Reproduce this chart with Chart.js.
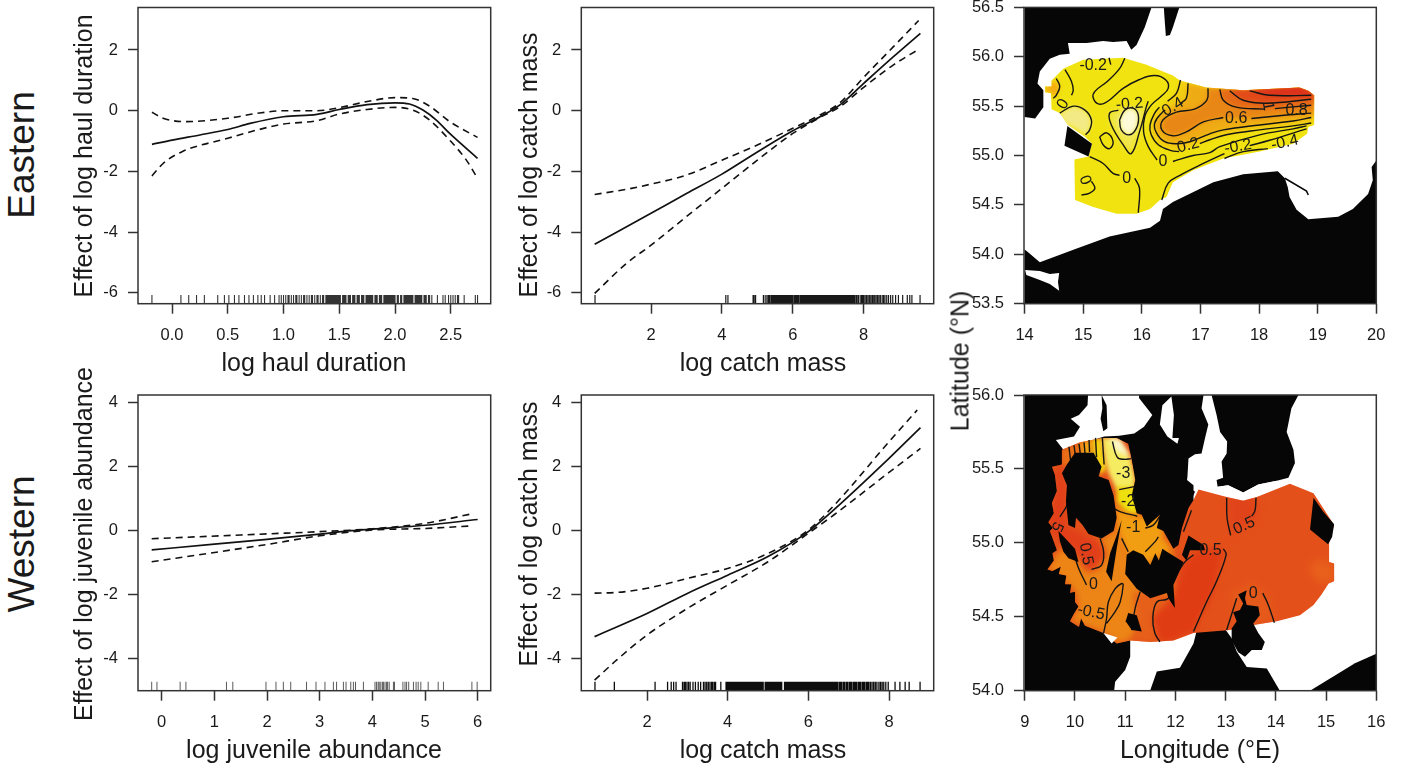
<!DOCTYPE html>
<html>
<head>
<meta charset="utf-8">
<title>Effects by region</title>
<style>
 html, body { margin: 0; background: #fff; }
 #page { position: relative; width: 1403px; height: 766px; overflow: hidden; font-family: "Liberation Sans", Arial, sans-serif; color: #1a1a1a; }
 canvas { position: absolute; }
 .lab { position: absolute; white-space: nowrap; line-height: 1; }
</style>
<script src="https://cdn.jsdelivr.net/npm/chart.js@4/dist/chart.umd.js"></script>
</head>
<body>
<div id="page"></div>
<script>
// Eastern, log haul duration
const haulFitX = [-0.18, 0, 0.25, 0.5, 0.7, 1, 1.3, 1.5, 1.75, 2, 2.13, 2.25, 2.37, 2.49, 2.74];
const haulFit = [-1.11, -0.97, -0.8, -0.62, -0.42, -0.2, -0.12, 0.04, 0.2, 0.26, 0.22, 0.02, -0.31, -0.75, -1.57];
const haulUpperX = [-0.18, -0.08, 0.13, 0.5, 0.76, 1, 1.3, 1.5, 1.75, 2, 2.16, 2.31, 2.49, 2.74];
const haulUpper = [-0.05, -0.25, -0.36, -0.25, -0.09, 0, 0, 0.1, 0.3, 0.43, 0.4, 0.15, -0.36, -0.88];
const haulLowerX = [-0.18, -0.08, 0.09, 0.5, 0.76, 1, 1.3, 1.5, 1.75, 2, 2.16, 2.31, 2.49, 2.64, 2.74];
const haulLower = [-2.15, -1.74, -1.35, -0.91, -0.64, -0.44, -0.33, -0.11, 0.04, 0.11, 0.02, -0.31, -0.97, -1.63, -2.23];
const haulRug = [-0.18, 0.08, 0.15, 0.22, 0.29, 0.41, 0.47, 0.51, 0.56, 0.6, 0.65, 0.69, 0.73, 0.77, 0.8, 0.83, 0.88, 0.92, 0.96, 0.98, 1.0, 1.02, 1.04, 1.05, 1.07, 1.09, 1.11, 1.12, 1.14, 1.16, 1.18, 1.19, 1.21, 1.23, 1.25, 1.26, 1.28, 1.3, 1.31, 1.33, 1.35, 1.36, 1.38, 1.39, 1.4, 1.41, 1.42, 1.43, 1.44, 1.45, 1.46, 1.47, 1.48, 1.49, 1.5, 1.51, 1.53, 1.54, 1.55, 1.56, 1.58, 1.59, 1.6, 1.62, 1.63, 1.64, 1.66, 1.67, 1.68, 1.7, 1.71, 1.72, 1.74, 1.75, 1.76, 1.77, 1.78, 1.79, 1.8, 1.82, 1.83, 1.84, 1.86, 1.87, 1.88, 1.9, 1.91, 1.92, 1.93, 1.94, 1.95, 1.96, 1.97, 1.98, 1.99, 2.0, 2.02, 2.03, 2.05, 2.06, 2.08, 2.09, 2.1, 2.11, 2.12, 2.13, 2.14, 2.15, 2.16, 2.18, 2.19, 2.2, 2.21, 2.22, 2.23, 2.24, 2.26, 2.27, 2.28, 2.3, 2.31, 2.33, 2.38, 2.43, 2.45, 2.48, 2.5, 2.52, 2.54, 2.56, 2.57, 2.62, 2.72, 2.74];
const haulTicks = [0, 0.5, 1, 1.5, 2, 2.5];
const haulTickLabels = ['0.0', '0.5', '1.0', '1.5', '2.0', '2.5'];

// Eastern, log catch mass
const eastMassFitX = [0.41, 2, 3, 4, 5, 6, 6.77, 7.33, 8, 8.84, 9.6];
const eastMassFit = [-4.4, -3.38, -2.73, -2.09, -1.36, -0.66, -0.2, 0.19, 0.9, 1.78, 2.55];
const eastMassUpperX = [0.41, 1.31, 2, 3, 4, 5, 6, 6.77, 7.33, 8, 8.84, 9.55];
const eastMassUpper = [-2.76, -2.59, -2.42, -2.12, -1.63, -1.13, -0.58, -0.14, 0.26, 1.1, 2.11, 2.97];
const eastMassLowerX = [0.41, 1.31, 2, 3, 4, 5, 6, 6.77, 7.33, 8, 8.84, 9.55];
const eastMassLower = [-6.02, -5.03, -4.43, -3.49, -2.56, -1.63, -0.75, -0.22, 0.13, 0.77, 1.51, 2.02];
const eastMassRug = [0.42, 4.11, 4.17, 4.88, 4.91, 4.95, 5.17, 5.22, 5.27, 5.31, 5.34, 5.38, 5.41, 5.44, 5.47, 5.49, 5.52, 5.54, 5.57, 5.59, 5.62, 5.65, 5.67, 5.7, 5.72, 5.75, 5.78, 5.8, 5.83, 5.85, 5.88, 5.91, 5.93, 5.96, 5.98, 6.01, 6.05, 6.08, 6.1, 6.13, 6.16, 6.2, 6.22, 6.25, 6.27, 6.3, 6.33, 6.35, 6.38, 6.4, 6.43, 6.45, 6.48, 6.5, 6.53, 6.55, 6.58, 6.6, 6.63, 6.65, 6.68, 6.7, 6.73, 6.75, 6.78, 6.8, 6.83, 6.85, 6.88, 6.9, 6.93, 6.95, 6.98, 7.0, 7.03, 7.05, 7.08, 7.1, 7.13, 7.15, 7.18, 7.2, 7.23, 7.25, 7.28, 7.3, 7.33, 7.35, 7.38, 7.4, 7.43, 7.45, 7.48, 7.5, 7.53, 7.55, 7.58, 7.61, 7.63, 7.66, 7.69, 7.72, 7.74, 7.78, 7.81, 7.85, 7.9, 7.94, 7.97, 8.0, 8.04, 8.08, 8.12, 8.16, 8.2, 8.24, 8.27, 8.31, 8.35, 8.39, 8.43, 8.47, 8.52, 8.56, 8.6, 8.65, 8.7, 8.76, 8.82, 8.9, 8.98, 9.1, 9.23, 9.3, 9.36, 9.59];
const eastMassTicks = [2, 4, 6, 8];

// Western, log juvenile abundance
const juvFitX = [-0.19, 1, 2, 3, 3.6, 4, 5, 6];
const juvFit = [-0.61, -0.43, -0.28, -0.12, -0.01, 0.04, 0.16, 0.34];
const juvUpperX = [-0.19, 2, 3, 4, 5, 5.9];
const juvUpper = [-0.26, -0.11, -0.04, 0.05, 0.22, 0.52];
const juvLowerX = [-0.19, 2, 3, 4, 5, 5.9];
const juvLower = [-0.98, -0.44, -0.17, 0.01, 0.06, 0.14];
const juvRug = [-0.19, -0.09, 0.35, 0.46, 1.23, 1.35, 1.98, 2.17, 2.31, 2.45, 2.75, 2.93, 3.1, 3.26, 3.32, 3.45, 3.5, 3.59, 3.64, 3.68, 3.83, 4.05, 4.08, 4.11, 4.13, 4.16, 4.19, 4.21, 4.24, 4.27, 4.29, 4.32, 4.4, 4.42, 4.58, 4.62, 4.65, 4.69, 4.78, 4.83, 4.87, 4.92, 5.06, 5.25, 5.35, 5.89, 5.99];
const juvTicks = [0, 1, 2, 3, 4, 5, 6];

// Western, log catch mass
const westMassFitX = [0.7, 2, 3, 4, 5, 6, 6.63, 8, 8.78];
const westMassFit = [-3.32, -2.6, -1.97, -1.4, -0.82, -0.04, 0.64, 2.25, 3.21];
const westMassUpperX = [0.7, 1.25, 2, 3, 4, 5, 6, 6.63, 8, 8.7];
const westMassUpper = [-1.96, -1.94, -1.81, -1.5, -1.19, -0.72, 0.01, 0.77, 2.77, 3.76];
const westMassLowerX = [0.7, 1.25, 2, 3, 4, 5, 6, 6.63, 8, 8.78];
const westMassLower = [-4.68, -4.05, -3.27, -2.44, -1.71, -0.98, -0.09, 0.48, 1.81, 2.56];
const westMassRug = [0.71, 1.19, 2.2, 2.51, 2.6, 2.66, 2.72, 2.88, 2.92, 2.95, 2.99, 3.03, 3.07, 3.14, 3.2, 3.27, 3.33, 3.4, 3.44, 3.48, 3.52, 3.56, 3.6, 3.63, 3.67, 3.7, 3.83, 3.96, 3.98, 4.01, 4.03, 4.06, 4.09, 4.11, 4.14, 4.17, 4.2, 4.22, 4.25, 4.28, 4.31, 4.33, 4.36, 4.39, 4.42, 4.44, 4.47, 4.5, 4.53, 4.55, 4.58, 4.61, 4.64, 4.66, 4.69, 4.72, 4.75, 4.77, 4.8, 4.83, 4.86, 4.88, 4.93, 4.95, 4.98, 5.01, 5.04, 5.06, 5.09, 5.12, 5.15, 5.17, 5.2, 5.23, 5.26, 5.28, 5.31, 5.34, 5.41, 5.44, 5.47, 5.49, 5.52, 5.55, 5.58, 5.6, 5.63, 5.66, 5.69, 5.71, 5.74, 5.77, 5.8, 5.82, 5.85, 5.88, 5.91, 5.93, 5.96, 5.99, 6.02, 6.04, 6.07, 6.1, 6.13, 6.15, 6.18, 6.21, 6.24, 6.26, 6.29, 6.32, 6.35, 6.37, 6.4, 6.43, 6.46, 6.48, 6.51, 6.54, 6.57, 6.59, 6.62, 6.65, 6.68, 6.7, 6.73, 6.77, 6.8, 6.83, 6.87, 6.9, 6.94, 6.97, 7.01, 7.04, 7.07, 7.11, 7.14, 7.17, 7.2, 7.24, 7.27, 7.3, 7.34, 7.37, 7.4, 7.44, 7.47, 7.5, 7.54, 7.58, 7.62, 7.66, 7.7, 7.75, 7.79, 7.83, 7.87, 7.92, 7.98, 8.15, 8.27, 8.4, 8.5, 8.77];
const westMassTicks = [2, 4, 6, 8];

const effectTicksEast = [-6, -4, -2, 0, 2];
const effectTicksWest = [-4, -2, 0, 2, 4];

// Eastern map, [lon, lat]
const eastLandNorth = [[14, 56.5], [16.165, 56.5], [16.05, 56.3], [15.91, 56.12], [15.82, 56.07], [15.74, 56.16], [15.51, 56.15], [15.34, 56.16], [15.06, 56.14], [14.74, 56.14], [14.77, 56.03], [14.6, 56.02], [14.43, 55.98], [14.26, 55.85], [14.22, 55.73], [14.32, 55.66], [14.32, 55.49], [14.18, 55.375], [14, 55.39]];
const eastLandOland = [[16.375, 56.5], [16.64, 56.5], [16.53, 56.3], [16.48, 56.22], [16.41, 56.21], [16.39, 56.37]];
const eastLandSouth = [[14, 54.05], [14.06, 54.02], [14.26, 53.92], [14.89, 54.06], [15.45, 54.18], [16.14, 54.27], [16.31, 54.34], [16.36, 54.46], [16.53, 54.53], [16.88, 54.63], [17.22, 54.73], [17.73, 54.81], [18.32, 54.84], [18.44, 54.77], [18.49, 54.68], [18.52, 54.58], [18.64, 54.45], [18.84, 54.355], [19.35, 54.38], [19.6, 54.46], [19.86, 54.61], [19.94, 54.75], [19.92, 54.885], [20, 54.95], [20, 53.5], [14, 53.5]];
const eastLagoon = [[14.01, 53.84], [14.26, 53.83], [14.43, 53.8], [14.59, 53.81], [14.57, 53.72], [14.59, 53.63], [14.43, 53.7], [14.26, 53.74], [14.03, 53.79]];
const eastBornholm = [[14.73, 55.3], [15.15, 55.12], [15.09, 54.99], [14.68, 55.1]];
const eastSpit = [[18.44, 54.77], [18.81, 54.64], [18.84, 54.6]];
const eastSurface = [[14.35, 55.7], [14.46, 55.7], [14.46, 55.76], [14.66, 55.88], [15, 55.97], [15.68, 55.99], [16.08, 55.92], [16.53, 55.81], [16.65, 55.76], [17.1, 55.69], [17.73, 55.66], [18.69, 55.69], [18.84, 55.655], [18.94, 55.61], [18.94, 55.31], [18.84, 55.29], [18.82, 55.22], [18.58, 55.12], [18.01, 55.04], [17.39, 54.97], [16.875, 54.85], [16.53, 54.73], [16.42, 54.58], [16.31, 54.55], [16.14, 54.46], [15.91, 54.41], [15.57, 54.41], [15.17, 54.48], [14.86, 54.55], [14.85, 54.96], [15.09, 54.99], [15.15, 55.12], [15.03, 55.19], [14.74, 55.31], [14.6, 55.43], [14.46, 55.47], [14.45, 55.63], [14.35, 55.64]];
const eastBandWest = [[14.35, 55.7], [14.52, 55.76], [14.6, 55.7], [14.54, 55.59], [14.45, 55.63], [14.35, 55.64]];
const eastBandPaleArc = [[14.6, 55.43], [14.83, 55.5], [15.03, 55.46], [15.14, 55.36], [15.11, 55.26], [15.04, 55.21], [14.83, 55.29], [14.66, 55.33]];
const eastBandPaleTri = [[15.6, 55.46], [15.45, 55.43], [15.48, 55.31], [15.68, 55.11], [15.82, 55.02], [15.96, 55.24], [16.08, 55.5]];
const eastBandWhite = [[15.62, 55.36], [15.65, 55.26], [15.79, 55.21], [15.91, 55.28], [15.94, 55.41], [15.85, 55.48], [15.71, 55.46]];
const eastTop = [[18.94, 55.61], [18.84, 55.655], [18.69, 55.69], [17.73, 55.66]];
const eastBandA = [[16.66, 55.765], [16.59, 55.63], [16.39, 55.53], [16.22, 55.43], [16.14, 55.31], [16.16, 55.21], [16.28, 55.11], [16.5, 55.05], [16.635, 55.04], [16.99, 55.12], [17.16, 55.16], [17.44, 55.21], [18.01, 55.26], [18.58, 55.3], [18.94, 55.33], ...eastTop, [17.1, 55.69]];
const eastBandB = [[16.79, 55.73], [16.76, 55.58], [16.59, 55.51], [16.36, 55.445], [16.22, 55.33], [16.25, 55.23], [16.39, 55.14], [16.59, 55.12], [16.82, 55.14], [17.16, 55.22], [17.39, 55.26], [18.01, 55.31], [18.58, 55.35], [18.94, 55.385], ...eastTop, [17.1, 55.69]];
const eastBandC = [[17.13, 55.68], [17.11, 55.56], [16.9, 55.47], [16.59, 55.44], [16.36, 55.36], [16.34, 55.26], [16.53, 55.2], [16.76, 55.24], [17.05, 55.34], [17.39, 55.385], [17.87, 55.375], [18.47, 55.41], [18.94, 55.43], ...eastTop];
const eastBandD = [[17.33, 55.67], [17.39, 55.56], [17.61, 55.49], [18.1, 55.47], [18.27, 55.475], [18.94, 55.51], ...eastTop];
const eastBandE = [[17.5, 55.655], [17.73, 55.56], [18.125, 55.53], [18.94, 55.57], ...eastTop];
const eastBandF = [[17.84, 55.655], [18.18, 55.61], [18.94, 55.61], [18.84, 55.655], [18.69, 55.69]];
const eastContours = [
 [[15.71, 55.985], [15.62, 55.88], [15.42, 55.755], [15.2, 55.65], [15.17, 55.585], [15.27, 55.52], [15.42, 55.55], [15.68, 55.68], [15.96, 55.77], [16.22, 55.81], [16.41, 55.765], [16.45, 55.68], [16.33, 55.6], [16.16, 55.51], [16.05, 55.395], [16.03, 55.24], [16.11, 55.09], [16.26, 54.955]],
 [[16.53, 54.94], [16.875, 55], [17.16, 55.03], [17.33, 55.09], [18.01, 55.21], [18.58, 55.27], [18.81, 55.3]],
 [[16.66, 55.765], [16.59, 55.63], [16.44, 55.55]],
 [[16.3, 55.49], [16.22, 55.43], [16.14, 55.31], [16.16, 55.21], [16.28, 55.11], [16.5, 55.05], [16.635, 55.04]],
 [[16.99, 55.12], [17.16, 55.16], [17.44, 55.21], [18.01, 55.26], [18.58, 55.3], [18.89, 55.33]],
 [[16.79, 55.73], [16.76, 55.58], [16.66, 55.53]],
 [[16.4, 55.46], [16.36, 55.445], [16.22, 55.33], [16.25, 55.23], [16.39, 55.14], [16.59, 55.12], [16.82, 55.14], [17.16, 55.22], [17.39, 55.26], [18.01, 55.31], [18.58, 55.35], [18.89, 55.385]],
 [[17.13, 55.68], [17.11, 55.56], [16.9, 55.47], [16.59, 55.44], [16.36, 55.36], [16.34, 55.26], [16.53, 55.2], [16.76, 55.24], [17.05, 55.34], [17.39, 55.385]],
 [[17.87, 55.375], [18.47, 55.41], [18.89, 55.43]],
 [[17.33, 55.67], [17.39, 55.56], [17.61, 55.49], [18.1, 55.47]],
 [[18.27, 55.475], [18.89, 55.51]],
 [[17.5, 55.655], [17.73, 55.56], [18.125, 55.53], [18.89, 55.57]],
 [[17.84, 55.655], [18.18, 55.61], [18.89, 55.61]],
 [[14.69, 55.87], [14.8, 55.75], [14.83, 55.66], [14.8, 55.61]],
 [[14.54, 55.78], [14.6, 55.7], [14.54, 55.61], [14.49, 55.58]],
 [[14.6, 55.43], [14.83, 55.5], [15.03, 55.46], [15.14, 55.36], [15.11, 55.26], [15.04, 55.21]],
 [[15.28, 55.19], [15.4, 55.23], [15.51, 55.14], [15.45, 55.07], [15.34, 55.11], [15.28, 55.19]],
 [[15.6, 55.46], [15.45, 55.43], [15.48, 55.31], [15.68, 55.11], [15.82, 55.02], [15.96, 55.24], [16.08, 55.5], [16.11, 55.55]],
 [[15.62, 55.36], [15.65, 55.26], [15.79, 55.21], [15.91, 55.28], [15.94, 55.41], [15.85, 55.48], [15.71, 55.46], [15.62, 55.36]],
 [[15.11, 54.99], [15.34, 54.92], [15.51, 54.82], [15.62, 54.8]],
 [[15.88, 54.77], [15.96, 54.67], [15.94, 54.42]],
 [[15.14, 54.74], [15.2, 54.67], [15.11, 54.62], [14.97, 54.6]],
 [[15.44, 55.99], [15.47, 55.92]],
 [[16.34, 54.55], [16.45, 54.72], [16.65, 54.8], [17.05, 54.92], [17.41, 55.02]],
 [[17.84, 55.1], [18.18, 55.155], [18.81, 55.27]],
 [[17.41, 54.97], [17.73, 55.04], [18.15, 55.07]]
];
const eastLabelText = ['-0.2', '0', '-0.2', '0.4', '0.2', '0', '0', '0', '0.6', '1', '0.8', '-0.2', '-0.4'];
const eastLabelLon = [15.17, 14.66, 15.79, 16.53, 16.79, 16.36, 15.74, 15.03, 17.61, 18.15, 18.64, 17.64, 18.44];
const eastLabelLat = [55.91, 55.52, 55.52, 55.49, 55.1, 54.94, 54.77, 54.75, 55.37, 55.5, 55.46, 55.09, 55.13];
const eastLabelAngle = [0, -60, -5, -30, -15, 0, 0, 70, 0, 80, 0, -10, -12];
const eastLonTicks = [14, 15, 16, 17, 18, 19, 20];
const eastLatTicks = [53.5, 54, 54.5, 55, 55.5, 56, 56.5];

// Western map, [lon, lat]
const westLandMain = [[9, 56], [14.45, 56], [14.31, 55.91], [14.215, 55.75], [14.35, 55.63], [14.38, 55.54], [14.25, 55.44], [14.02, 55.42], [13.65, 55.395], [13.35, 55.34], [13.05, 55.39], [12.84, 55.38], [12.39, 55.345], [11.1, 54.34], [11.1, 54.23], [11, 54.14], [10.8, 54.06], [10.78, 54], [9, 54]];
const westSeaBelt = [[10.26, 56], [10.25, 55.93], [10.08, 55.865], [9.915, 55.84], [10.1, 55.785], [9.98, 55.72], [9.62, 55.695], [9.77, 55.63], [10.58, 55.72], [10.88, 55.725], [11.18, 55.74], [11.375, 55.785], [11.54, 55.865], [11.275, 55.98], [11.275, 56]];
const westSeaSliver = [[11.74, 55.93], [11.92, 55.99], [11.97, 55.865], [11.94, 55.71], [12.07, 55.71], [12.04, 55.67], [11.84, 55.72], [11.69, 55.8]];
const westSeaSound = [[12.56, 56], [12.72, 56], [12.82, 55.865], [12.89, 55.75], [13.03, 55.685], [13.02, 55.605], [12.92, 55.55], [12.95, 55.44], [12.82, 55.425], [12.84, 55.38], [13.05, 55.39], [13.35, 55.34], [13.65, 55.395], [14.02, 55.42], [14.05, 55.38], [14.38, 55.39], [14.31, 55.32], [13.35, 55.27], [12.655, 55.32], [12.39, 55.345], [12.22, 55.39], [12.24, 55.45], [12.26, 55.57], [12.39, 55.6], [12.52, 55.605], [12.59, 55.71], [12.655, 55.8], [12.52, 55.91]];
const westSeaNotch = [[10.565, 54.39], [10.73, 54.32], [10.845, 54.36]];
const westIslandStripe = [[10.53, 56], [10.63, 55.93], [10.645, 55.775], [10.565, 55.755], [10.51, 55.84], [10.545, 55.91]];
const westLandGermany = [[11.495, 54], [11.63, 54.13], [12.09, 54.155], [12.36, 54.32], [12.46, 54.455], [12.96, 54.43], [13.12, 54.355], [13.22, 54.265], [13.42, 54.16], [13.82, 54.15], [14.08, 54]];
const westLandPoland = [[14.68, 54], [15.575, 54.185], [16, 54.25], [16, 54]];
const westSurface = [[9.74, 55.63], [10.1, 55.68], [10.53, 55.71], [10.83, 55.71], [11.06, 55.67], [11.23, 55.41], [12.36, 55.29], [12.46, 55.36], [13.02, 55.31], [13.35, 55.285], [13.62, 55.31], [14.28, 55.4], [14.75, 55.335], [15.16, 55.12], [15.06, 55], [15.06, 54.87], [15.16, 54.86], [15.16, 54.74], [15.05, 54.725], [14.91, 54.65], [14.75, 54.58], [14.48, 54.51], [14.02, 54.47], [13.55, 54.445], [13.09, 54.41], [12.36, 54.39], [11.96, 54.34], [11.5, 54.33], [11.1, 54.34], [10.83, 54.32], [10.57, 54.39], [10.2, 54.44], [10.12, 54.49], [10.08, 54.43], [9.9, 54.47], [9.98, 54.52], [10.07, 54.57], [10, 54.6], [10, 54.67], [9.9, 54.66], [9.93, 54.72], [9.8, 54.72], [9.83, 54.78], [9.68, 54.79], [9.72, 54.84], [9.55, 54.81], [9.45, 54.82], [9.58, 54.88], [9.55, 54.93], [9.64, 54.95], [9.5, 55.08], [9.56, 55.1], [9.47, 55.14], [9.58, 55.2], [9.54, 55.27], [9.64, 55.35], [9.6, 55.46], [9.54, 55.515], [9.74, 55.53]];
const westBandH1 = [[9.74, 55.63], [10.1, 55.68], [10.13, 55.53], [9.84, 55.515], [9.74, 55.53]];
const westBandH2 = [[10.1, 55.68], [10.33, 55.7], [10.37, 55.58], [10.13, 55.58]];
const westBandH3 = [[10.33, 55.7], [10.53, 55.71], [10.63, 55.5], [10.5, 55.46], [10.37, 55.58]];
const westBandH4 = [[10.53, 55.71], [10.83, 55.71], [11.1, 55.58], [11.2, 55.44], [11.18, 55.36], [10.83, 55.36], [10.67, 55.47], [10.6, 55.56]];
const westBandH4b = [[10.67, 55.7], [10.9, 55.7], [11.1, 55.58], [10.83, 55.62]];
const westBandH5 = [[10.83, 55.38], [11.2, 55.38], [11.26, 55.19], [11.03, 55.21], [10.83, 55.28]];
const westBandH6 = [[10.8, 55.28], [11.03, 55.21], [11.26, 55.18], [11.63, 55.19], [11.79, 55.14], [11.76, 55.03], [11.96, 54.96], [11.43, 54.85], [11.03, 54.92], [10.93, 55.01], [10.83, 55.1]];
const westBandH7 = [[10, 55.01], [10.63, 55.05], [10.83, 55.1], [11.03, 54.92], [11.43, 54.85], [11.96, 54.96], [11.96, 54.625], [11.43, 54.67], [11.23, 54.4], [11.1, 54.34], [10.83, 54.32], [10.57, 54.39], [10.2, 54.44], [9.9, 54.47], [10.07, 54.57], [10, 54.67], [9.7, 54.77], [9.45, 54.82], [9.64, 54.93]];
const westBandH8 = [[9.6, 55.46], [9.74, 55.53], [9.82, 55.39], [9.82, 55.12], [10, 55.08], [10.5, 55.03], [10.63, 54.92], [10.43, 54.82], [10.23, 54.805], [10.04, 54.9], [9.77, 55.01], [9.5, 55.08], [9.47, 55.14], [9.64, 55.35]];
const westBandH9 = [[11.96, 54.625], [12.16, 54.86], [12.49, 54.96], [12.96, 54.96], [12.76, 54.67], [12.36, 54.4], [11.96, 54.34], [11.69, 54.33], [11.55, 54.49]];
const westBandH10 = [[11.16, 54.67], [11.43, 54.67], [11.96, 54.625], [11.55, 54.49], [11.69, 54.33], [11.5, 54.33], [11.1, 54.34], [11.23, 54.4]];
const westBandE1 = [[13.02, 55.31], [13.62, 55.31], [13.62, 55.17], [13.12, 55.05]];
const westBandE2 = [[14.75, 54.89], [15.06, 54.87], [15.16, 54.86], [15.16, 54.74], [14.91, 54.72], [14.68, 54.79]];
const westBandE3 = [[13.09, 54.66], [13.55, 54.735], [13.88, 54.625], [13.95, 54.47], [13.29, 54.41]];
const westIslandFyn = [[9.84, 55.53], [10, 55.61], [10.37, 55.61], [10.53, 55.515], [10.47, 55.45], [10.67, 55.425], [10.77, 55.32], [10.83, 55.17], [10.77, 55.08], [10.53, 55.03], [10.27, 55.06], [10.15, 55.12], [10.02, 55.17], [10, 55.1], [9.87, 55.12], [9.82, 55.28], [9.84, 55.39], [9.74, 55.47]];
const westIslandAls = [[9.67, 55.08], [10, 54.96], [10.07, 54.87], [9.87, 54.895], [9.77, 54.94], [9.7, 55.01]];
const westIslandLangeland = [[10.93, 55.155], [10.83, 54.96], [10.73, 54.74], [10.62, 54.805], [10.7, 54.93], [10.83, 55.05]];
const westIslandLolland = [[11.03, 54.92], [11.16, 54.95], [11.36, 54.92], [11.5, 54.85], [11.6, 54.93], [11.67, 54.88], [11.74, 54.96], [11.83, 54.94], [12.16, 54.87], [11.96, 54.715], [11.99, 54.56], [11.86, 54.625], [11.83, 54.66], [11.5, 54.625], [11.23, 54.69], [11, 54.79]];
const westIslandFalster = [[11.06, 54.525], [11.23, 54.51], [11.33, 54.4], [11.13, 54.41], [11.01, 54.47]];
const westIslandMoen = [[12.13, 54.92], [12.26, 55.05], [12.56, 54.985], [12.59, 54.95], [12.29, 54.95], [12.22, 54.88]];
const westIslandZealand = [[11.1, 55.68], [11.3, 55.68], [12.36, 55.39], [12.36, 55.29], [12.26, 55.235], [12.13, 55.1], [12.06, 54.985], [11.96, 54.96], [11.76, 55.08], [11.63, 55.1], [11.69, 55.19], [11.43, 55.11], [11.33, 55.19], [11.23, 55.2], [11.13, 55.32], [11.2, 55.425], [11.13, 55.57]];
const westIslandRugen = [[13.25, 54.65], [13.42, 54.68], [13.385, 54.625], [13.42, 54.58], [13.65, 54.57], [13.68, 54.51], [13.55, 54.455], [13.65, 54.39], [13.78, 54.33], [13.72, 54.275], [13.52, 54.275], [13.385, 54.23], [13.25, 54.26], [13.12, 54.34], [13.12, 54.42], [13.22, 54.47], [13.15, 54.53], [13.285, 54.545], [13.35, 54.59]];
const westIslandBornholm = [[14.75, 55.305], [14.945, 55.21], [15.16, 55.125], [15.12, 55.04], [15.04, 54.99], [14.68, 55.09]];
const westContours = [
 [[9.88, 55.65], [9.915, 55.55]], [[9.98, 55.66], [10.015, 55.57]], [[10.08, 55.67], [10.11, 55.59]], [[10.18, 55.68], [10.2, 55.605]], [[10.28, 55.695], [10.29, 55.615]], [[10.41, 55.71], [10.43, 55.58]], [[10.545, 55.71], [10.58, 55.53]],
 [[10.745, 55.685], [10.84, 55.58], [10.975, 55.565], [11.12, 55.57]],
 [[10.79, 55.23], [10.91, 55.21], [11.24, 55.18]],
 [[10.88, 55.36], [11.18, 55.38]],
 [[13.02, 55.305], [13.03, 55.165], [13.1, 55.05]],
 [[13.605, 55.305], [13.585, 55.22], [13.52, 55.18]],
 [[12.955, 54.96], [13.01, 54.92], [12.82, 54.74], [12.62, 54.6], [12.36, 54.4]],
 [[12.36, 54.92], [12.16, 54.86], [11.96, 54.74], [11.86, 54.625], [11.63, 54.6], [11.55, 54.49], [11.59, 54.39], [11.69, 54.33]],
 [[13.74, 54.66], [13.85, 54.58], [13.97, 54.46]],
 [[13.02, 54.41], [13.22, 54.625]],
 [[11.3, 54.67], [11.2, 54.56], [11.13, 54.41]],
 [[10.57, 54.39], [10.63, 54.49], [10.665, 54.6], [10.8, 54.69], [10.93, 54.725], [10.96, 54.715], [10.9, 54.6], [10.8, 54.535], [10.63, 54.455]],
 [[9.97, 54.94], [10.07, 54.83], [10.23, 54.715]],
 [[10.5, 55.03], [10.57, 54.94], [10.53, 54.85], [10.33, 54.82]],
 [[9.87, 55.32], [9.84, 55.255], [9.7, 55.175]],
 [[10.93, 55.03], [11.06, 54.94]],
 [[11.4, 54.94], [11.6, 55.01], [11.66, 55.04]],
 [[11.4, 55.1], [11.56, 55.12], [11.69, 55.18]],
 [[12.16, 55.075], [12.32, 55.22]]
];
const westLabelText = ['-3', '-2', '-1', '0.5', '0.5', '0', '0.5', '0', '-0.5', '5'];
const westLabelLon = [10.96, 11.06, 11.16, 13.37, 12.7, 13.55, 10.22, 10.37, 10.32, 9.64];
const westLabelLat = [55.47, 55.28, 55.1, 55.115, 54.945, 54.66, 54.925, 54.72, 54.53, 55.11];
const westLabelAngle = [0, 0, 0, -25, 0, 0, 80, 0, 12, 115];
const westLonTicks = [9, 10, 11, 12, 13, 14, 15, 16];
const westLatTicks = [54, 54.5, 55, 55.5, 56];

Chart.defaults.font.family = '"Liberation Sans", Arial, sans-serif';
Chart.defaults.color = '#1a1a1a';
const page = document.getElementById('page');
const INK = '#333';

// outer box of each panel
const framePlugin = {
    id: 'frame',
    afterDraw(chart) {
        const a = chart.chartArea, ctx = chart.ctx;
        ctx.save();
        ctx.strokeStyle = INK;
        ctx.lineWidth = 1.5;
        ctx.strokeRect(a.left, a.top, a.right - a.left, a.bottom - a.top);
        ctx.restore();
    }
};

function tracePoints(ctx, points) {
    ctx.beginPath();
    points.forEach((p, i) => i ? ctx.lineTo(p.x, p.y) : ctx.moveTo(p.x, p.y));
    ctx.closePath();
}

// land, sea and surface shapes, filled from the dataset's scaled points
const polygonPlugin = {
    id: 'polygons',
    beforeDatasetDraw(chart, args) {
        const ds = chart.data.datasets[args.index];
        if (!ds.polyFill) return;
        const ctx = chart.ctx;
        ctx.save();
        if (ds.softIn !== undefined) {
            tracePoints(ctx, chart.getDatasetMeta(ds.softIn).data);
            ctx.clip();
            ctx.filter = 'blur(' + ds.softness + 'px)';
        }
        tracePoints(ctx, args.meta.data);
        ctx.fillStyle = ds.polyFill;
        ctx.fill();
        ctx.restore();
    }
};

function contourLabels(text, lon, lat, angle) {
    return {
        id: 'contourLabels',
        afterDatasetsDraw(chart) {
            const ctx = chart.ctx, sx = chart.scales.x, sy = chart.scales.y;
            ctx.save();
            ctx.font = '16px "Liberation Sans", Arial, sans-serif';
            ctx.fillStyle = '#1a1a1a';
            ctx.textAlign = 'center';
            ctx.textBaseline = 'middle';
            text.forEach((t, i) => {
                ctx.save();
                ctx.translate(sx.getPixelForValue(lon[i]), sy.getPixelForValue(lat[i]));
                ctx.rotate(angle[i] * Math.PI / 180);
                ctx.fillText(t, 0, 0);
                ctx.restore();
            });
            ctx.restore();
        }
    };
}

function axisOptions(range, ticks, labels, pos, size) {
    return {
        type: 'linear',
        position: pos,
        min: range[0],
        max: range[1],
        border: { display: false },
        grid: { drawOnChartArea: false, drawTicks: true, tickLength: 10, tickColor: INK, tickWidth: 1.5 },
        ticks: {
            autoSkip: false,
            maxRotation: 0,
            minRotation: 0,
            padding: pos === 'bottom' ? 12 : 10,
            color: '#1a1a1a',
            font: { size: 16.5 },
            callback: (v, i) => labels ? labels[i] : String(ticks[i])
        },
        afterBuildTicks: axis => { axis.ticks = ticks.map(value => ({ value })); },
        // fixed axis size, and no extra room for the end labels
        afterFit: axis => {
            if (pos === 'bottom') axis.height = size; else axis.width = size;
            axis.paddingLeft = axis.paddingRight = axis.paddingTop = axis.paddingBottom = 0;
        }
    };
}

function drawPanel(box, xRange, yRange, xTicks, xLabels, yTicks, yLabels, datasets, extraPlugins) {
    const leftPad = 66, rightPad = 12, bottomPad = 46;
    const left = Math.floor(box.l - leftPad), top = Math.max(0, Math.floor(box.t - 8));
    const width = Math.ceil(box.r + rightPad) - left, height = Math.ceil(box.b + bottomPad) - top;
    const canvas = document.createElement('canvas');
    canvas.width = width;
    canvas.height = height;
    canvas.style.left = left + 'px';
    canvas.style.top = top + 'px';
    page.appendChild(canvas);
    datasets.forEach((d, i) => { d.order = -i; });
    return new Chart(canvas, {
        type: 'scatter',
        data: { datasets },
        options: {
            responsive: false,
            animation: false,
            events: [],
            layout: {
                autoPadding: false,
                padding: { top: box.t - top, right: left + width - box.r, left: 0, bottom: 0 }
            },
            plugins: { legend: { display: false }, tooltip: { enabled: false } },
            scales: {
                x: axisOptions(xRange, xTicks, xLabels, 'bottom', top + height - box.b),
                y: axisOptions(yRange, yTicks, yLabels, 'left', box.l - left)
            }
        },
        plugins: [polygonPlugin, framePlugin].concat(extraPlugins || [])
    });
}

const zip = (xs, ys) => xs.map((x, i) => ({ x, y: ys[i] }));
const toPoints = pairs => pairs.map(p => ({ x: p[0], y: p[1] }));
const curve = (xs, ys, dash) => ({ data: zip(xs, ys), showLine: true, borderColor: '#111', borderWidth: dash ? 1.6 : 1.7, borderDash: dash ? [7, 5] : [], cubicInterpolationMode: 'monotone', pointRadius: 0 });

function rug(values, low, high, alpha, width) {
    const data = [];
    values.forEach(v => data.push({ x: v, y: low }, { x: v, y: high }, { x: v, y: NaN }));
    return { data, showLine: true, spanGaps: false, borderColor: 'rgba(0,0,0,' + alpha + ')', borderWidth: width, pointRadius: 0 };
}
const shape = (pairs, color) => ({ data: toPoints(pairs), showLine: false, pointRadius: 0, polyFill: color });
const soft = (pairs, color, outlineIndex, px) => Object.assign(shape(pairs, color), { softIn: outlineIndex, softness: px });
const contour = pairs => ({ data: toPoints(pairs), showLine: true, borderColor: '#151515', borderWidth: 1.4, tension: 0.4, pointRadius: 0 });

function addLabel(text, cx, cy, size, vertical) {
    const el = document.createElement('div');
    el.className = 'lab';
    el.textContent = text;
    el.style.left = cx + 'px';
    el.style.top = cy + 'px';
    el.style.fontSize = size + 'px';
    el.style.transform = 'translate(-50%,-50%)' + (vertical ? ' rotate(-90deg)' : '');
    page.appendChild(el);
}

const fmtLat = v => v.toFixed(1);

// left column and middle column
drawPanel({ l: 138, t: 7.5, r: 490.7, b: 303.7 }, [-0.305, 2.858], [-6.36, 3.4], haulTicks, haulTickLabels, effectTicksEast, null, [
    rug(haulRug, -6.36, -6.07, 0.8, 1.1), curve(haulFitX, haulFit), curve(haulUpperX, haulUpper, true), curve(haulLowerX, haulLower, true)
]);
drawPanel({ l: 581.3, t: 7.5, r: 933.7, b: 303.7 }, [0.033, 9.975], [-6.36, 3.4], eastMassTicks, null, effectTicksEast, null, [
    rug(eastMassRug, -6.36, -6.07, 0.9, 1.2), curve(eastMassFitX, eastMassFit), curve(eastMassUpperX, eastMassUpper, true), curve(eastMassLowerX, eastMassLower, true)
]);
drawPanel({ l: 138, t: 395, r: 490.7, b: 690.7 }, [-0.45, 6.247], [-5.01, 4.23], juvTicks, null, effectTicksWest, null, [
    rug(juvRug, -5.01, -4.73, 0.65, 1), curve(juvFitX, juvFit), curve(juvUpperX, juvUpper, true), curve(juvLowerX, juvLower, true)
]);
drawPanel({ l: 581.3, t: 395, r: 933.7, b: 690.7 }, [0.371, 9.108], [-5.01, 4.23], westMassTicks, null, effectTicksWest, null, [
    rug(westMassRug, -5.01, -4.73, 0.95, 1.3), curve(westMassFitX, westMassFit), curve(westMassUpperX, westMassUpper, true), curve(westMassLowerX, westMassLower, true)
]);

// Eastern map
drawPanel({ l: 1024, t: 7.4, r: 1376.3, b: 303.7 }, [13.99, 20], [53.5, 56.5], eastLonTicks, null, eastLatTicks, eastLatTicks.map(fmtLat), [
    shape(eastLandNorth, '#060606'),
    shape(eastLandOland, '#060606'),
    shape(eastLandSouth, '#060606'),
    shape(eastLagoon, '#ffffff'),
    shape(eastSurface, '#f1e310'),
    soft(eastBandWest, '#f4ad10', 4, 2),
    soft(eastBandPaleArc, '#f3ea85', 4, 2),
    soft(eastBandPaleTri, '#f0e650', 4, 3),
    soft(eastBandWhite, '#fdfad8', 4, 2),
    soft(eastBandA, '#f2cd12', 4, 2),
    soft(eastBandB, '#efab14', 4, 2),
    soft(eastBandC, '#e98716', 4, 2),
    soft(eastBandD, '#e66a18', 4, 2),
    soft(eastBandE, '#e24a1a', 4, 2),
    soft(eastBandF, '#dc2f1b', 4, 2),
    shape(eastBornholm, '#060606'),
    { data: toPoints(eastSpit), showLine: true, borderColor: '#060606', borderWidth: 1.5, pointRadius: 0 },
    ...eastContours.map(contour)
], [contourLabels(eastLabelText, eastLabelLon, eastLabelLat, eastLabelAngle)]);

// Western map
drawPanel({ l: 1024, t: 395, r: 1376.3, b: 690.7 }, [8.985, 16], [54, 56], westLonTicks, null, westLatTicks, westLatTicks.map(fmtLat), [
    shape(westLandMain, '#060606'),
    shape(westSeaBelt, '#ffffff'),
    shape(westSeaSliver, '#ffffff'),
    shape(westSeaSound, '#ffffff'),
    shape(westIslandStripe, '#060606'),
    shape(westLandGermany, '#060606'),
    shape(westLandPoland, '#060606'),
    shape(westSurface, '#e4501a'),
    soft(westBandH7, '#ec8516', 7, 3),
    soft(westBandH6, '#f29e12', 7, 3),
    soft(westBandH1, '#e86f17', 7, 2),
    soft(westBandH2, '#efa214', 7, 2),
    soft(westBandH3, '#f2d411', 7, 2),
    soft(westBandH4, '#f5ec62', 7, 2),
    soft(westBandH4b, '#faf5c8', 7, 2),
    soft(westBandH5, '#efe10f', 7, 2),
    soft(westBandH8, '#e13f1a', 7, 3),
    soft(westBandH10, '#e6601a', 7, 3),
    soft(westBandH9, '#e03c14', 7, 3),
    soft(westBandE1, '#e0431a', 7, 4),
    soft(westBandE2, '#e8601c', 7, 4),
    soft(westBandE3, '#e55a1b', 7, 4),
    shape(westSeaNotch, '#ffffff'),
    ...westContours.map(contour),
    shape(westIslandFyn, '#060606'),
    shape(westIslandAls, '#060606'),
    shape(westIslandLangeland, '#060606'),
    shape(westIslandLolland, '#060606'),
    shape(westIslandFalster, '#060606'),
    shape(westIslandMoen, '#060606'),
    shape(westIslandZealand, '#060606'),
    shape(westIslandRugen, '#060606'),
    shape(westIslandBornholm, '#060606')
], [contourLabels(westLabelText, westLabelLon, westLabelLat, westLabelAngle)]);

// Axis titles and row names
addLabel('Eastern', 21, 155, 37, true);
addLabel('Western', 21, 544, 37, true);
addLabel('Effect of log haul duration', 83, 155.5, 25, true);
addLabel('Effect of log catch mass', 528, 164.5, 25, true);
addLabel('Effect of log juvenile abundance', 83, 543.5, 25, true);
addLabel('Effect of log catch mass', 528, 534, 25, true);
addLabel('log haul duration', 314, 362, 25);
addLabel('log catch mass', 763, 362, 25);
addLabel('log juvenile abundance', 314, 749, 25);
addLabel('log catch mass', 763, 749, 25);
addLabel('Longitude (°E)', 1200, 749, 25);
addLabel('Latitude (°N)', 960, 361, 25, true);
</script>
</body>
</html>
